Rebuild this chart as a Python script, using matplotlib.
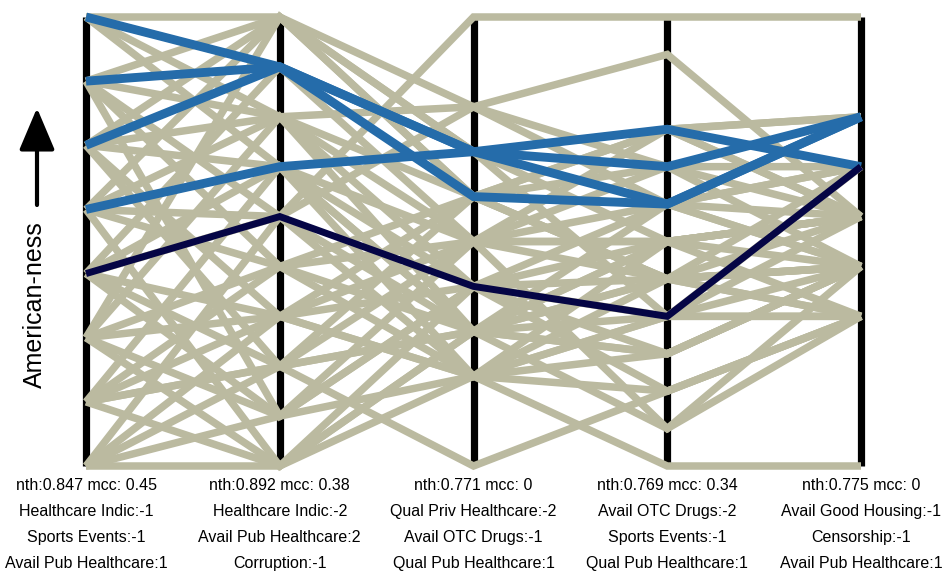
import numpy as np
import matplotlib
matplotlib.use("Agg")
import matplotlib.pyplot as plt

plt.rcParams["font.family"] = ["Liberation Sans", "DejaVu Sans"]

# number of discrete levels on each vertical axis
LEVELS = [8, 10, 11, 13, 10]

AXIS_LABELS = [
    ["nth:0.847 mcc: 0.45", "Healthcare Indic:-1", "Sports Events:-1", "Avail Pub Healthcare:1"],
    ["nth:0.892 mcc: 0.38", "Healthcare Indic:-2", "Avail Pub Healthcare:2", "Corruption:-1"],
    ["nth:0.771 mcc: 0", "Qual Priv Healthcare:-2", "Avail OTC Drugs:-1", "Qual Pub Healthcare:1"],
    ["nth:0.769 mcc: 0.34", "Avail OTC Drugs:-2", "Sports Events:-1", "Qual Pub Healthcare:1"],
    ["nth:0.775 mcc: 0", "Avail Good Housing:-1", "Censorship:-1", "Avail Pub Healthcare:1"],
]

# level index (0 = bottom) of every line on each axis
beige_lines = [
    (7, 9, 8, 11, 5), (7, 7, 6, 8, 4), (7, 6, 3, 5, 3), (7, 8, 7, 6, 4),
    (6, 9, 7, 9, 7), (6, 7, 5, 6, 5), (6, 5, 8, 7, 6), (6, 4, 2, 3, 4),
    (6, 8, 5, 9, 5), (6, 1, 4, 5, 6),
    (5, 9, 6, 5, 4), (5, 7, 4, 6, 5), (5, 6, 3, 4, 3), (5, 3, 5, 7, 6),
    (5, 2, 3, 3, 4),
    (4, 7, 8, 8, 5), (4, 6, 5, 5, 4), (4, 5, 10, 12, 9), (4, 4, 3, 6, 3),
    (4, 9, 7, 4, 3), (4, 0, 3, 7, 5),
    (3, 8, 6, 5, 5), (3, 6, 4, 7, 4), (3, 5, 2, 2, 3), (3, 3, 2, 4, 4),
    (3, 2, 5, 6, 5), (3, 1, 2, 5, 4),
    (2, 7, 3, 3, 4), (2, 4, 6, 5, 3), (2, 3, 4, 4, 5), (2, 1, 5, 8, 6),
    (2, 0, 4, 3, 4), (2, 9, 6, 9, 7),
    (1, 6, 2, 6, 5), (1, 4, 5, 1, 3), (1, 2, 3, 5, 4), (1, 0, 2, 4, 6),
    (1, 2, 0, 2, 3), (1, 3, 6, 9, 5),
    (0, 0, 3, 6, 5), (0, 2, 6, 7, 4), (0, 1, 4, 2, 3), (0, 3, 2, 0, 0),
    (0, 5, 3, 1, 4),
]

blue_lines = [
    (7, 8, 6, 7, 7),
    (6, 8, 7, 7, 7),
    (5, 8, 7, 8, 7),
    (4, 6, 7, 9, 6),
]

navy_line = (3, 5, 4, 4, 6)

BEIGE = "#BBBAA0"
BLUE = "#256CAA"
NAVY = "#050545"


def to_y(line):
    return [v / (n - 1) for v, n in zip(line, LEVELS)]


W, H = 950, 574
fig = plt.figure(figsize=(W / 100, H / 100), dpi=100)
ax = fig.add_axes([0, 0, 1, 1])

# pixel layout: axis 0 at x=86, axis 4 at x=861, top y=17, bottom y=466
px_per_x = (861 - 86) / 4
px_per_y = 466 - 17
ax.set_xlim(-86 / px_per_x, 4 + (W - 861) / px_per_x)
ax.set_ylim(-(H - 466) / px_per_y, 1 + 17 / px_per_y)
ax.axis("off")

xs = np.arange(len(LEVELS))

for x in xs:
    ax.plot([x, x], [0, 1], color="black", lw=5.2, solid_capstyle="butt", zorder=1)

for line in beige_lines:
    ax.plot(xs, to_y(line), color=BEIGE, lw=5.4, solid_joinstyle="miter",
            solid_capstyle="butt", zorder=2)

for line in blue_lines:
    ax.plot(xs, to_y(line), color=BLUE, lw=6.4, solid_joinstyle="miter",
            solid_capstyle="butt", zorder=3)

ax.plot(xs, to_y(navy_line), color=NAVY, lw=5.0, solid_joinstyle="miter",
        solid_capstyle="butt", zorder=4)

# labels under each axis
for x, lines in zip(xs, AXIS_LABELS):
    for i, txt in enumerate(lines):
        py = 485 + i * 26.3
        ax.text(x, (466 - py) / px_per_y, txt, ha="center", va="center", fontsize=11.5)

# y label with arrow
lx = (35 - 86) / px_per_x
ax.text(lx, (466 - 305) / px_per_y, "American-ness", rotation=90,
        ha="center", va="center", fontsize=18)
ax.annotate("", xy=(lx + 2 / px_per_x, (466 - 108) / px_per_y),
            xytext=(lx + 2 / px_per_x, (466 - 205) / px_per_y),
            arrowprops=dict(arrowstyle="-|>,head_length=2.6,head_width=1.1",
                            color="black", lw=3, shrinkA=0, shrinkB=0))

fig.savefig("out.png", dpi=100)
